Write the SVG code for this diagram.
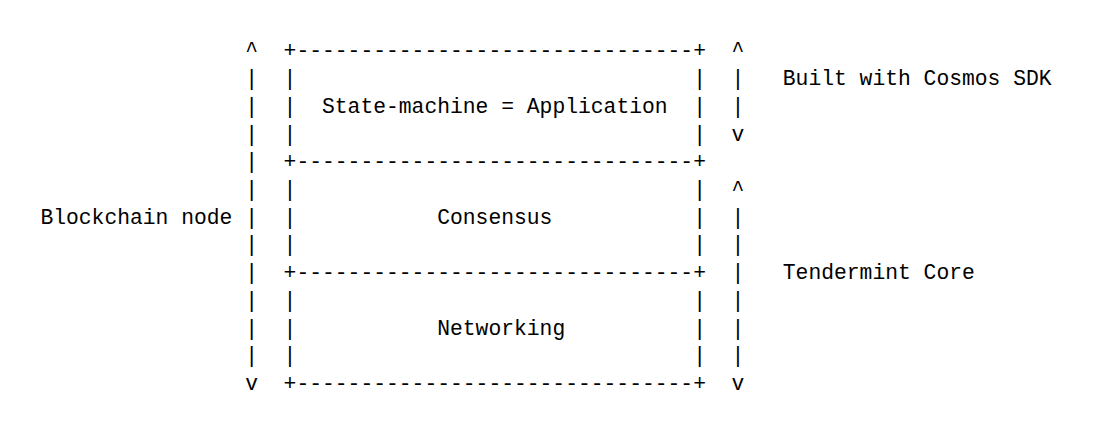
<svg xmlns="http://www.w3.org/2000/svg" width="1110" height="428" viewBox="0 0 1110 428">
<style>
text{font-family:"Courier New","Liberation Mono",monospace;font-size:21.33px;fill:#000;white-space:pre}
</style>
<rect width="1110" height="428" fill="#fff"/>
<g id="connectors">
  <g id="left-arrow">
    <text x="245.2" y="57.3">^</text>
    <text x="245.2" y="85.0">|</text><text x="245.2" y="112.8">|</text><text x="245.2" y="140.5">|</text>
    <text x="245.2" y="168.2">|</text><text x="245.2" y="196.0">|</text><text x="245.2" y="223.7">|</text>
    <text x="245.2" y="251.4">|</text><text x="245.2" y="279.2">|</text><text x="245.2" y="306.9">|</text>
    <text x="245.2" y="334.6">|</text><text x="245.2" y="362.3">|</text>
    <text x="245.2" y="390.1">v</text>
  </g>
  <g id="sdk-arrow">
    <text x="731.6" y="57.3">^</text>
    <text x="731.6" y="85.0">|</text><text x="731.6" y="112.8">|</text>
    <text x="731.6" y="140.5">v</text>
  </g>
  <g id="tendermint-arrow">
    <text x="731.6" y="196.0">^</text>
    <text x="731.6" y="223.7">|</text><text x="731.6" y="251.4">|</text><text x="731.6" y="279.2">|</text>
    <text x="731.6" y="306.9">|</text><text x="731.6" y="334.6">|</text><text x="731.6" y="362.3">|</text>
    <text x="731.6" y="390.1">v</text>
  </g>
</g>
<g id="blockchain-node-label">
  <text x="40.4" y="223.7">Blockchain node</text>
</g>
<g id="application">
  <text x="283.6" y="57.3">+-------------------------------+</text>
  <text x="283.6" y="85.0">|</text><text x="693.2" y="85.0">|</text>
  <text x="283.6" y="112.8">|</text><text x="693.2" y="112.8">|</text>
  <text x="283.6" y="140.5">|</text><text x="693.2" y="140.5">|</text>
  <text x="322" y="112.8">State-machine = Application</text>
</g>
<g id="consensus">
  <text x="283.6" y="168.2">+-------------------------------+</text>
  <text x="283.6" y="196.0">|</text><text x="693.2" y="196.0">|</text>
  <text x="283.6" y="223.7">|</text><text x="693.2" y="223.7">|</text>
  <text x="283.6" y="251.4">|</text><text x="693.2" y="251.4">|</text>
  <text x="437.2" y="223.7">Consensus</text>
</g>
<g id="networking">
  <text x="283.6" y="279.2">+-------------------------------+</text>
  <text x="283.6" y="306.9">|</text><text x="693.2" y="306.9">|</text>
  <text x="283.6" y="334.6">|</text><text x="693.2" y="334.6">|</text>
  <text x="283.6" y="362.3">|</text><text x="693.2" y="362.3">|</text>
  <text x="437.2" y="334.6">Networking</text>
  <text x="283.6" y="390.1">+-------------------------------+</text>
</g>
<g id="cosmos-sdk-label">
  <text x="782.8" y="85.0">Built with Cosmos SDK</text>
</g>
<g id="tendermint-core-label">
  <text x="782.8" y="279.2">Tendermint Core</text>
</g>
</svg>
